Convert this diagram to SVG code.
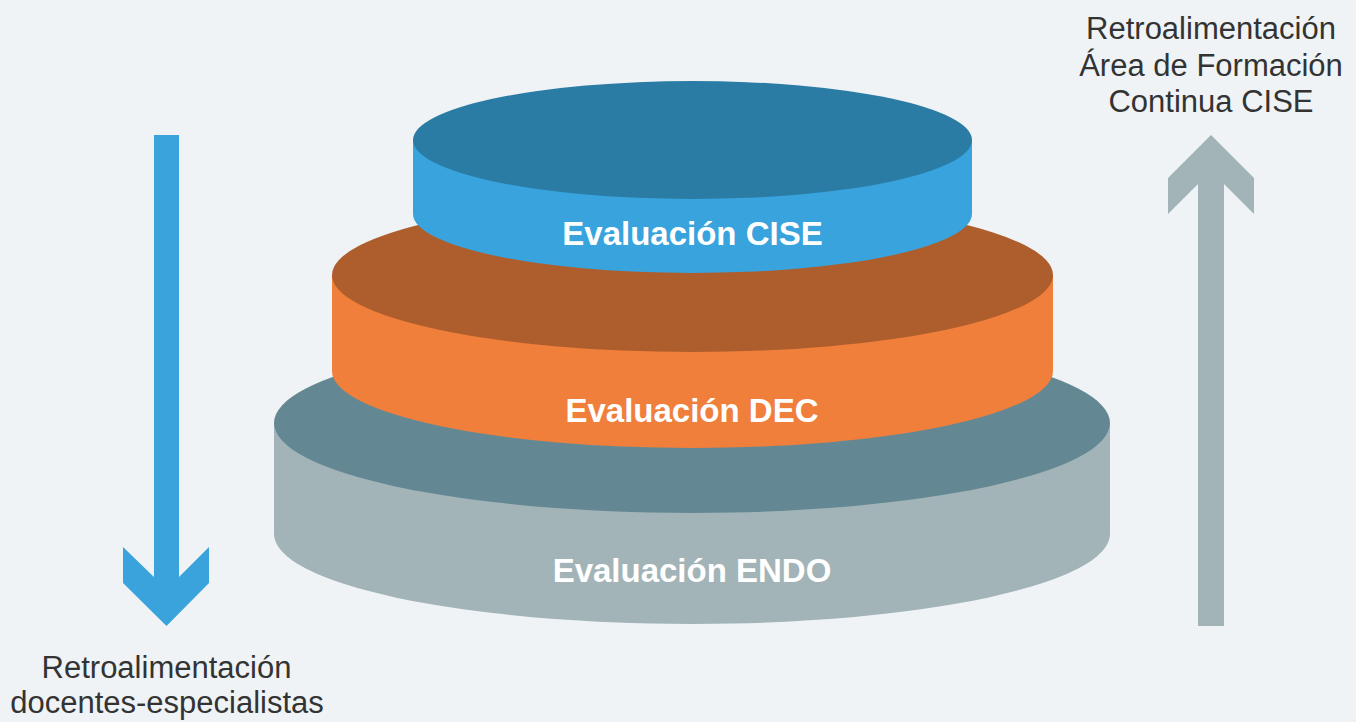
<svg xmlns="http://www.w3.org/2000/svg" width="1356" height="722" viewBox="0 0 1356 722">
<style>
.lbl{font-family:"Liberation Sans",Arial,Helvetica,sans-serif;font-size:33px;font-weight:bold;fill:#ffffff;text-anchor:middle}
.note{font-family:"Liberation Sans",Arial,Helvetica,sans-serif;font-size:31px;fill:#333333;text-anchor:middle}
</style>
<rect x="0" y="0" width="1356" height="722" fill="#eff3f6"/>
<g id="connectors">
<polygon id="arrow-down" fill="#3aa3dc" points="154,135 179,135 179,577 209,547 209,583 166.5,626 123,583 123,547 154,577"/>
<polygon id="arrow-up" fill="#a2b4b7" points="1211,135 1254,178 1254,214 1224,184 1224,626 1198,626 1198,184 1168,214 1168,178"/>
</g>
<g id="node-endo">
<path d="M274,423 L274,534 A418,90 0 0 0 1110,534 L1110,423 Z" fill="#a2b4b7"/>
<ellipse cx="692" cy="423" rx="418" ry="90" fill="#648893"/>
<text class="lbl" x="692" y="582">Evaluación ENDO</text>
</g>
<g id="node-dec">
<path d="M332,275 L332,371 A360.5,77 0 0 0 1053,371 L1053,275 Z" fill="#f07f3b"/>
<ellipse cx="692.5" cy="275" rx="360.5" ry="77" fill="#ae5e2c"/>
<text class="lbl" x="692" y="422">Evaluación DEC</text>
</g>
<g id="node-cise">
<path d="M413,140 L413,214 A279.5,59 0 0 0 972,214 L972,140 Z" fill="#38a3dc"/>
<ellipse cx="692.5" cy="140" rx="279.5" ry="59" fill="#2b7ca5"/>
<text class="lbl" x="692.5" y="245">Evaluación CISE</text>
</g>
<g id="label-left">
<text class="note" x="166.5" y="678">Retroalimentación</text>
<text class="note" x="167" y="713">docentes-especialistas</text>
</g>
<g id="label-right">
<text class="note" x="1211" y="39">Retroalimentación</text>
<text class="note" x="1211" y="76">Área de Formación</text>
<text class="note" x="1211" y="112">Continua CISE</text>
</g>
</svg>
